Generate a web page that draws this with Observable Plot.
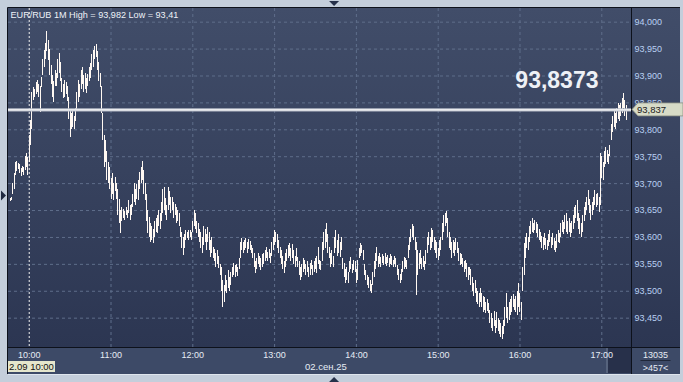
<!DOCTYPE html>
<html><head><meta charset="utf-8">
<script src="https://cdn.jsdelivr.net/npm/d3@7"></script>
<script src="https://cdn.jsdelivr.net/npm/@observablehq/plot@0.6"></script>
<style>body{margin:0;background:#c4cedb;overflow:hidden}</style>
</head><body><div id="chart"></div><script>
// EUR/RUB 1-minute bars, 02.09.2025, first bar 09:46
const firstBar = "2025-09-02T09:46:00Z";
const lows = [
93.667,93.668,93.680,93.690,93.715,93.722,93.726,93.718,93.714,93.720,
93.716,93.725,93.730,93.716,93.740,93.770,93.800,93.855,93.860,93.865,
93.870,93.860,93.832,93.878,93.900,93.915,93.930,93.945,93.928,93.900,
93.885,93.860,93.850,93.880,93.880,93.895,93.905,93.890,93.870,93.858,
93.860,93.865,93.852,93.820,93.786,93.800,93.805,93.800,93.815,93.835,
93.850,93.860,93.875,93.885,93.870,93.875,93.868,93.880,93.890,93.895,
93.910,93.915,93.930,93.935,93.910,93.890,93.878,93.830,93.780,93.730,
93.740,93.705,93.700,93.690,93.670,93.680,93.668,93.685,93.670,93.640,
93.625,93.607,93.630,93.635,93.631,93.640,93.636,93.645,93.631,93.640,
93.655,93.665,93.660,93.670,93.668,93.690,93.700,93.705,93.680,93.668,
93.630,93.607,93.600,93.590,93.595,93.588,93.600,93.610,93.607,93.620,
93.615,93.630,93.645,93.650,93.640,93.631,93.650,93.660,93.644,93.650,
93.635,93.640,93.626,93.630,93.620,93.600,93.580,93.566,93.580,93.594,
93.598,93.595,93.600,93.594,93.610,93.620,93.615,93.607,93.600,93.590,
93.580,93.570,93.585,93.590,93.575,93.590,93.575,93.562,93.570,93.560,
93.555,93.545,93.550,93.542,93.530,93.500,93.470,93.480,93.500,93.496,
93.505,93.500,93.510,93.525,93.530,93.525,93.535,93.528,93.540,93.560,
93.575,93.570,93.575,93.580,93.570,93.578,93.575,93.570,93.560,93.545,
93.533,93.540,93.550,93.545,93.538,93.545,93.550,93.555,93.560,93.555,
93.560,93.551,93.565,93.575,93.585,93.590,93.580,93.570,93.560,93.550,
93.540,93.533,93.545,93.555,93.560,93.565,93.555,93.560,93.550,93.544,
93.555,93.545,93.530,93.520,93.525,93.535,93.540,93.530,93.535,93.525,
93.530,93.540,93.530,93.535,93.540,93.533,93.550,93.540,93.538,93.555,
93.575,93.580,93.590,93.570,93.560,93.545,93.550,93.544,93.570,93.580,
93.565,93.570,93.562,93.575,93.540,93.525,93.514,93.520,93.515,93.535,
93.540,93.533,93.538,93.535,93.514,93.520,93.560,93.565,93.570,93.557,
93.530,93.520,93.510,93.505,93.500,93.495,93.510,93.525,93.540,93.555,
93.545,93.550,93.545,93.552,93.548,93.550,93.546,93.552,93.544,93.550,
93.548,93.545,93.550,93.544,93.530,93.520,93.514,93.520,93.535,93.540,
93.545,93.540,93.560,93.575,93.590,93.600,93.595,93.575,93.492,93.530,
93.540,93.550,93.540,93.545,93.538,93.550,93.570,93.585,93.575,93.580,
93.590,93.575,93.570,93.560,93.557,93.565,93.575,93.594,93.610,93.620,
93.625,93.600,93.580,93.575,93.560,93.570,93.565,93.575,93.570,93.555,
93.548,93.550,93.545,93.535,93.540,93.525,93.520,93.530,93.510,93.500,
93.490,93.495,93.480,93.475,93.470,93.480,93.470,93.460,93.465,93.458,
93.462,93.458,93.440,93.430,93.425,93.435,93.421,93.430,93.425,93.420,
93.415,93.410,93.420,93.435,93.450,93.440,93.445,93.455,93.460,93.470,
93.465,93.460,93.455,93.470,93.460,93.445,93.500,93.530,93.560,93.580,
93.575,93.590,93.605,93.610,93.607,93.612,93.608,93.600,93.595,93.590,
93.580,93.575,93.585,93.578,93.575,93.583,93.590,93.580,93.585,93.575,
93.572,93.580,93.590,93.588,93.600,93.610,93.605,93.615,93.610,93.605,
93.610,93.600,93.608,93.615,93.625,93.635,93.630,93.615,93.605,93.600,
93.610,93.630,93.640,93.650,93.660,93.645,93.631,93.640,93.650,93.660,
93.655,93.660,93.646,93.660,93.710,93.705,93.730,93.735,93.740,93.735,
93.750,93.780,93.795,93.805,93.800,93.812,93.820,93.815,93.825,93.830,
93.840,93.825,93.817];
const highs = [
93.672,93.674,93.700,93.719,93.740,93.742,93.738,93.735,93.728,93.732,
93.730,93.750,93.756,93.748,93.790,93.817,93.869,93.878,93.875,93.888,
93.892,93.885,93.880,93.897,93.930,93.947,93.960,93.982,93.966,93.950,
93.920,93.900,93.890,93.910,93.905,93.930,93.942,93.925,93.895,93.885,
93.892,93.888,93.880,93.860,93.835,93.830,93.836,93.825,93.840,93.870,
93.892,93.885,93.910,93.916,93.900,93.905,93.895,93.903,93.915,93.923,
93.940,93.948,93.955,93.959,93.945,93.925,93.905,93.880,93.830,93.790,
93.780,93.760,93.740,93.730,93.710,93.719,93.700,93.712,93.700,93.690,
93.670,93.650,93.655,93.652,93.648,93.655,93.650,93.668,93.660,93.662,
93.680,93.700,93.690,93.698,93.705,93.720,93.730,93.741,93.725,93.700,
93.680,93.650,93.637,93.625,93.620,93.615,93.630,93.635,93.640,93.650,
93.645,93.665,93.690,93.693,93.672,93.660,93.693,93.685,93.675,93.674,
93.665,93.662,93.655,93.650,93.645,93.618,93.610,93.600,93.605,93.613,
93.610,93.612,93.613,93.610,93.630,93.650,93.645,93.630,93.626,93.615,
93.610,93.600,93.620,93.615,93.605,93.618,93.610,93.595,93.600,93.581,
93.578,93.570,93.575,93.565,93.550,93.544,93.520,93.510,93.530,93.520,
93.538,93.525,93.535,93.545,93.551,93.548,93.550,93.545,93.560,93.590,
93.598,93.590,93.595,93.598,93.590,93.596,93.592,93.585,93.580,93.570,
93.555,93.560,93.570,93.565,93.560,93.568,93.570,93.575,93.581,93.572,
93.578,93.570,93.590,93.600,93.613,93.610,93.605,93.595,93.581,93.575,
93.565,93.555,93.570,93.578,93.585,93.588,93.580,93.586,93.575,93.565,
93.580,93.562,93.555,93.545,93.550,93.560,93.557,93.550,93.555,93.545,
93.552,93.557,93.548,93.555,93.560,93.565,93.581,93.557,93.555,93.590,
93.610,93.615,93.626,93.605,93.581,93.570,93.575,93.565,93.600,93.613,
93.595,93.605,93.590,93.600,93.560,93.551,93.540,93.545,93.535,93.555,
93.562,93.550,93.558,93.555,93.540,93.557,93.580,93.588,93.585,93.575,
93.550,93.538,93.530,93.525,93.520,93.512,93.535,93.555,93.570,93.581,
93.565,93.570,93.562,93.568,93.565,93.570,93.562,93.566,93.560,93.568,
93.565,93.558,93.565,93.560,93.548,93.540,93.532,93.540,93.555,93.562,
93.560,93.558,93.585,93.600,93.615,93.624,93.620,93.600,93.590,93.575,
93.570,93.575,93.560,93.565,93.555,93.575,93.600,93.610,93.600,93.616,
93.612,93.600,93.595,93.590,93.580,93.594,93.600,93.625,93.640,93.645,
93.648,93.635,93.610,93.600,93.590,93.594,93.590,93.598,93.590,93.580,
93.570,93.568,93.560,93.555,93.558,93.551,93.545,93.544,93.540,93.525,
93.515,93.520,93.505,93.500,93.495,93.505,93.496,93.490,93.488,93.480,
93.485,93.478,93.464,93.458,93.450,93.462,93.445,93.460,93.450,93.445,
93.440,93.435,93.445,93.470,93.496,93.470,93.480,93.485,93.490,93.494,
93.485,93.490,93.500,93.514,93.495,93.480,93.545,93.588,93.600,93.607,
93.600,93.620,93.630,93.635,93.625,93.632,93.628,93.624,93.615,93.610,
93.602,93.600,93.607,93.598,93.595,93.605,93.612,93.600,93.607,93.598,
93.592,93.605,93.613,93.608,93.625,93.632,93.628,93.640,93.644,93.630,
93.635,93.625,93.630,93.640,93.655,93.660,93.668,93.645,93.635,93.625,
93.640,93.655,93.665,93.675,93.687,93.670,93.660,93.665,93.675,93.687,
93.680,93.682,93.675,93.756,93.750,93.740,93.760,93.767,93.762,93.755,
93.770,93.810,93.825,93.836,93.830,93.840,93.849,93.845,93.848,93.858,
93.867,93.855,93.845];
const lastPrice = 93.837;
const bigPriceLabel = "93,8373";
const titleText = "EUR/RUB 1M High = 93,982 Low = 93,41";
const yTicks = [93.45,93.50,93.55,93.60,93.65,93.70,93.75,93.80,93.85,93.90,93.95,94.00];
const hourLabels = ["10:00","11:00","12:00","13:00","14:00","15:00","16:00","17:00"];
const gridHourLabels = ["11:00","12:00","13:00","14:00","15:00","16:00","17:00"];
const dayStartLabel = "10:00";
const dateLabel = "02.сен.25";
const cursorLabel = "2.09 10:00";
const volumeTop = "13035";
const volumeBottom = ">457<";
const xDomain = ["2025-09-02T09:44:48Z", "2025-09-02T17:21:48Z"];
const yDomain = [93.3955, 94.0254];

const t0 = new Date(firstBar).getTime();
const bars = lows.map((l, i) => ({t: new Date(t0 + i * 60000), low: l, high: highs[i]}));
const toDate = s => new Date(`2025-09-02T${s}:00Z`);
const fmtPrice = d => d.toFixed(3).replace(".", ",");

const FONT = "Liberation Sans, Arial, sans-serif";

function panels(index, scales, values, dim) {
  const {width, height, marginLeft, marginTop, marginRight, marginBottom} = dim;
  const x0 = marginLeft, x1 = width - marginRight, y0 = marginTop, y1 = height - marginBottom;
  const g = d3.create("svg:g");
  const defs = g.append("defs");
  const lg = defs.append("linearGradient").attr("id", "bgGrad")
    .attr("gradientUnits", "userSpaceOnUse").attr("x1", 0).attr("x2", 0).attr("y1", y0).attr("y2", y1);
  lg.append("stop").attr("offset", 0).attr("stop-color", "#414d69");
  lg.append("stop").attr("offset", 1).attr("stop-color", "#2c3652");
  g.append("rect").attr("x", x0).attr("y", y1).attr("width", width - 3 - x0).attr("height", height - 8 - y1).attr("fill", "#3d4a67");
  g.append("rect").attr("x", x0).attr("y", y0).attr("width", width - 3 - x0).attr("height", y1 - y0).attr("fill", "url(#bgGrad)");
  g.append("rect").attr("x", x1 - 25).attr("y", y1).attr("width", 2).attr("height", height - 9 - y1).attr("fill", "#56637d");
  g.append("rect").attr("x", x1 - 23).attr("y", y1 + 1).attr("width", 23).attr("height", height - 10 - y1).attr("fill", "#27304a");
  g.append("rect").attr("x", x0).attr("y", height - 8).attr("width", width - 3 - x0).attr("height", 1).attr("fill", "#dfe6ee");
  return g.node();
}

function overlay(index, scales, values, dim) {
  const {width, height, marginLeft, marginTop, marginRight, marginBottom} = dim;
  const x0 = marginLeft, x1 = width - marginRight, y0 = marginTop, y1 = height - marginBottom;
  const g = d3.create("svg:g").attr("text-anchor", "start").attr("font-family", FONT);
  const line = (a, b, c, d) => g.append("line").attr("x1", a).attr("y1", b).attr("x2", c).attr("y2", d)
    .attr("stroke", "#0d111b").attr("stroke-width", 1);
  line(x0 - 0.5, y0 - 0.5, width - 3, y0 - 0.5);
  line(x0 - 0.5, y0 - 0.5, x0 - 0.5, height - 8);
  line(x1 + 0.5, y0, x1 + 0.5, height - 8);
  line(x0, y1 + 0.5, width - 3, y1 + 0.5);
  // price tag
  const py = scales.y(lastPrice);
  g.append("path").attr("d", `M${x1 + 1},${py} L${x1 + 7},${py - 6.5} H${width} V${py + 6.5} H${x1 + 7} Z`)
    .attr("fill", "#d7dbc7").attr("stroke", "#8b8f84").attr("stroke-width", 0.8);
  g.append("text").attr("x", x1 + 6).attr("y", py + 3.5).attr("font-size", 9.5).attr("fill", "#1a1a1a")
    .text(fmtPrice(lastPrice));
  // cursor time box
  g.append("rect").attr("x", x0).attr("y", y1 + 14).attr("width", 47).attr("height", 11).attr("fill", "#e5e6cc");
  g.append("text").attr("x", x0 + 1).attr("y", y1 + 23).attr("font-size", 9.5).attr("fill", "#111")
    .text(cursorLabel);
  // volume box
  const cx = (x1 + width - 3) / 2;
  g.append("text").attr("x", cx).attr("y", y1 + 10.5).attr("text-anchor", "middle").attr("font-size", 9)
    .attr("fill", "#e6ecf5").text(volumeTop);
  g.append("line").attr("x1", cx - 15).attr("x2", cx + 15).attr("y1", y1 + 13.5).attr("y2", y1 + 13.5)
    .attr("stroke", "#1f2739").attr("stroke-width", 1);
  g.append("text").attr("x", cx).attr("y", y1 + 24).attr("text-anchor", "middle").attr("font-size", 9)
    .attr("fill", "#e6ecf5").text(volumeBottom);
  // date label
  g.append("text").attr("x", scales.x(toDate("13:38"))).attr("y", y1 + 22.5).attr("text-anchor", "middle")
    .attr("font-size", 9.5).attr("fill", "#e6ecf5").text(dateLabel);
  // navigation triangles
  const mx = scales.x(toDate("13:44"));
  g.append("path").attr("d", `M${mx - 5},1 H${mx + 5} L${mx},6 Z`).attr("fill", "#26314a");
  g.append("path").attr("d", `M${mx - 5},${height} H${mx + 5} L${mx},${height - 5} Z`).attr("fill", "#26314a");
  const ty = scales.y(93.677);
  g.append("path").attr("d", `M1,${ty - 5} V${ty + 5} L6,${ty} Z`).attr("fill", "#1f2940");
  return g.node();
}

const chart = Plot.plot({
  width: 683, height: 382,
  marginLeft: 8, marginRight: 52, marginTop: 8, marginBottom: 35,
  x: {type: "utc", domain: xDomain.map(d => new Date(d)), label: null},
  y: {domain: yDomain, label: null},
  style: {background: "#c4cedb", fontFamily: FONT, fontSize: "9px", overflow: "visible"},
  marks: [
    panels,
    Plot.gridY(yTicks, {stroke: "#5f6e8b", strokeOpacity: 1, strokeDasharray: "3,3"}),
    Plot.gridX(gridHourLabels.map(toDate), {stroke: "#5f6e8b", strokeOpacity: 1, strokeDasharray: "3,3"}),
    Plot.ruleX([toDate(dayStartLabel)], {stroke: "#f0f0f0", strokeDasharray: "2,2", strokeWidth: 1}),
    Plot.ruleX(bars, {x: "t", y1: "low", y2: "high", stroke: "#fff8f2", strokeWidth: 1, shapeRendering: "crispEdges"}),
    Plot.ruleY([lastPrice], {stroke: "#b7bcc8", strokeWidth: 3.2}),
    Plot.ruleY([lastPrice], {stroke: "#fbfbfb", strokeWidth: 1.2}),
    Plot.axisY({anchor: "right", ticks: yTicks, tickFormat: fmtPrice, tickSize: 0, tickPadding: 3,
      fill: "#b9d0f2", label: null}),
    Plot.axisX({ticks: hourLabels.map(toDate), tickFormat: d3.utcFormat("%H:%M"), tickSize: 0, tickPadding: 4,
      fill: "#e6ecf5", label: null}),
    overlay,
    Plot.text([titleText], {frameAnchor: "top-left", text: d => d, textAnchor: "start", lineAnchor: "top",
      dx: 2, dy: 3, fill: "#eef2f8", fontSize: 9.1}),
    Plot.text([bigPriceLabel], {frameAnchor: "top-right", text: d => d, textAnchor: "end", lineAnchor: "bottom",
      dx: -33, dy: 79, fill: "#eef1f6", fontSize: 23, fontWeight: "bold"})
  ]
});
document.getElementById("chart").appendChild(chart);
</script></body></html>
